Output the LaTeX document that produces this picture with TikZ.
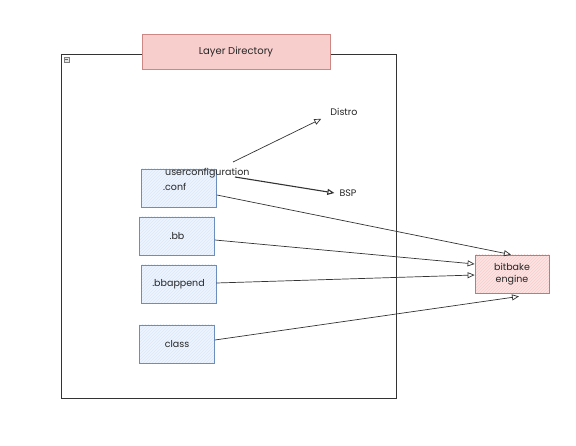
\documentclass[tikz,border=0pt]{standalone}
\usepackage{fontspec}
\setmainfont{Poppins}
\usetikzlibrary{arrows.meta,patterns}
\definecolor{bfill}{HTML}{DAE8FC}
\definecolor{bline}{HTML}{6C8EBF}
\definecolor{rfill}{HTML}{F8CECC}
\definecolor{rline}{HTML}{B85450}
\begin{document}
\begin{tikzpicture}[x=1pt,y=-1pt,
  every node/.style={font=\fontsize{9.5}{12}\selectfont, text=black!85},
  filebox/.style={draw=bline, line width=0.8pt, preaction={fill=bfill!45}, preaction={pattern=north east lines, pattern color=bfill}, minimum width=75pt, minimum height=38pt, inner sep=0pt},
  enginebox/.style={draw=rline!80, line width=0.8pt, preaction={fill=rfill!55}, preaction={pattern=north east lines, pattern color=rfill}, minimum width=74pt, minimum height=38pt, inner sep=0pt, align=center},
  titlebox/.style={draw=rline!70, line width=0.8pt, fill=rfill, minimum width=188pt, minimum height=35pt, inner sep=0pt, font=\fontsize{10}{12}\selectfont},
  conn/.style={draw=black!80, line width=0.7pt, -{Triangle[open,length=7pt,width=6pt]}},
  plain/.style={inner sep=1pt}
]
\useasboundingbox (0,0) rectangle (576,446);
% container
\node[draw=black!80, line width=0.9pt, minimum width=335pt, minimum height=344pt, inner sep=0pt] (cont) at (228.5,226) {};
\node[draw=black!50, fill=black!10, line width=0.3pt, minimum width=5pt, minimum height=5pt, inner sep=0pt] (icon) at (66.5,59.5) {};
\draw[black!60, line width=0.5pt] ([xshift=-1.5pt]icon.center) -- ([xshift=1.5pt]icon.center);
\node[titlebox] (title) at (236,51.5) {Layer Directory};
% file boxes
\node[filebox] (uc) at (179,188) {};
\node[plain, anchor=west] (uct) at (164,173) {userconfiguration};
\node[plain, anchor=west] (ucc) at (162,187) {.conf};
\node[filebox] (bb) at (177,236) {.bb};
\node[filebox] (bba) at (178.5,284) {.bbappend};
\node[filebox] (cls) at (177,344) {class};
\node[enginebox] (eng) at (512,274) {bitbake\\engine};
\node[plain] (distro) at (344,112) {Distro};
\node[plain] (bsp) at (348,193) {BSP};
% connectors
\coordinate (d0) at (233,162);
\coordinate (b0) at (235,177);
\draw[conn] (d0) -- ([xshift=-8pt,yshift=-2pt]distro.south west);
\draw[conn, line width=1.1pt] (b0) -- ([xshift=-4pt]bsp.west);
\draw[conn] ([yshift=-7pt]uc.east) -- ([xshift=-1pt]eng.north);
\draw[conn] ([yshift=-4pt]bb.east) -- ([yshift=10pt]eng.west);
\draw[conn] ([yshift=1pt]bba.east) -- ([yshift=-1pt]eng.west);
\draw[conn] ([yshift=4pt]cls.east) -- ([xshift=7pt,yshift=-3pt]eng.south);
\end{tikzpicture}
\end{document}
